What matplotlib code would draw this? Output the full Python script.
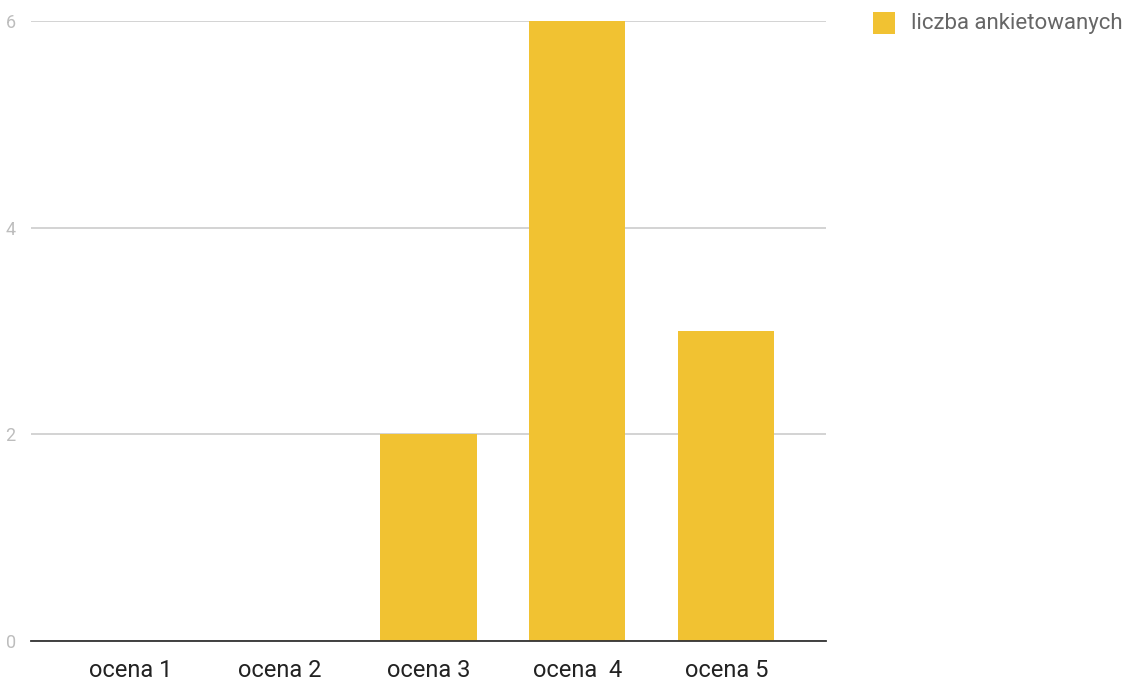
import matplotlib
matplotlib.use("Agg")
import matplotlib.pyplot as plt
from matplotlib.patches import Rectangle

categories = ["ocena 1", "ocena 2", "ocena 3", "ocena  4", "ocena 5"]
values = [0, 0, 2, 6, 3]
yticks = [0, 2, 4, 6]
series_name = "liczba ankietowanych"
bar_color = "#F1C232"

plt.rcParams['font.family'] = ['Roboto', 'DejaVu Sans']

W, H = 1129, 680
fig = plt.figure(figsize=(W / 100, H / 100), dpi=100)
ax = fig.add_axes([31 / W, 1 - 641 / H, (826 - 31) / W, (641 - 21) / H])

x = list(range(len(categories)))
ax.bar(x, values, width=0.645, color=bar_color, zorder=3)
ax.set_xlim(-0.67, len(categories) - 1 + 0.67)
ax.set_ylim(0, 6)
ax.set_yticks(yticks)
ax.set_yticklabels([str(v) for v in yticks], color="#bdbdbd", fontsize=13)
ax.set_xticks(x)
ax.set_xticklabels(categories, fontsize=17, color="#222222")
ax.tick_params(axis='both', length=0)
ax.tick_params(axis='y', pad=11)
ax.tick_params(axis='x', pad=13)
ax.grid(axis='y', color="#cccccc", linewidth=1.2, zorder=0)
for s in ['top', 'right', 'left']:
    ax.spines[s].set_visible(False)
ax.spines['bottom'].set_color("#333333")
ax.spines['bottom'].set_linewidth(1.3)
ax.spines['bottom'].set_zorder(4)

# legend
fig.patches.append(Rectangle((873 / W, 1 - 34 / H), 22 / W, 22 / H, transform=fig.transFigure,
                             facecolor=bar_color, edgecolor='none'))
fig.text(911 / W, 1 - 23 / H, series_name, fontsize=16, color="#666666", va='center', ha='left')

fig.savefig("out.png", dpi=100)
